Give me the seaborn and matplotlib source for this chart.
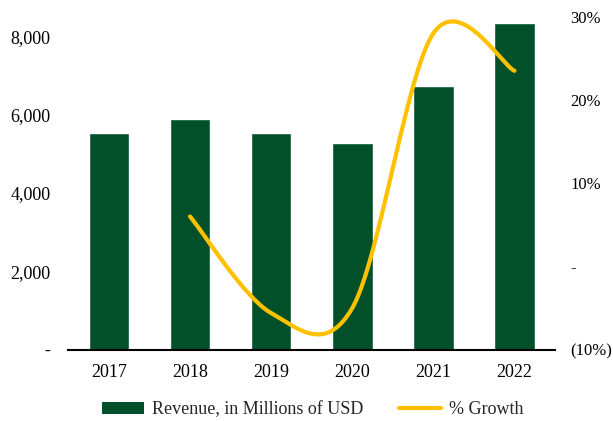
import numpy as np
import pandas as pd
import matplotlib
matplotlib.use("Agg")
import matplotlib.pyplot as plt
import seaborn as sns
from matplotlib.ticker import FuncFormatter, MultipleLocator
from matplotlib.patches import Patch
from matplotlib.lines import Line2D

# Data
years = ["2017", "2018", "2019", "2020", "2021", "2022"]
revenue = [5535, 5890, 5535, 5280, 6730, 8330]
growth_years = ["2018", "2019", "2020", "2021", "2022"]
growth = [6.0, -5.6, -5.0, 28.0, 23.5]

GREEN = "#02502A"
GOLD = "#FFC000"
FS = 13

sns.set_theme(style="white")
plt.rcParams["font.family"] = ["Liberation Serif", "DejaVu Serif"]
plt.rcParams["font.size"] = FS

fig = plt.figure(figsize=(6.13, 4.21), dpi=100)
W, H = 613, 421
ax = fig.add_axes([68.4 / W, 1 - 349.7 / H, (555 - 68.4) / W, (349.7 - 16.7) / H])

df = pd.DataFrame({"year": years, "revenue": revenue})
sns.barplot(data=df, x="year", y="revenue", color=GREEN, saturation=1,
            width=0.5, ax=ax, zorder=2)
ax.set_xlim(-0.5, 5.5)
ax.set_ylim(0, 8500)
ax.yaxis.set_major_locator(MultipleLocator(2000))
ax.yaxis.set_major_formatter(FuncFormatter(lambda v, p: "-" if v == 0 else f"{v:,.0f}"))
ax.set_xlabel("")
ax.set_ylabel("")
for s in ["top", "left", "right"]:
    ax.spines[s].set_visible(False)
ax.spines["bottom"].set_color("black")
ax.spines["bottom"].set_linewidth(1.5)
ax.spines["bottom"].set_zorder(3)
ax.tick_params(axis="x", length=0, pad=10, labelsize=FS, colors="black")
ax.tick_params(axis="y", length=0, pad=13, labelsize=FS, colors="black")

# Growth line, smoothed with a Catmull-Rom style Bezier between the yearly points
ax2 = ax.twinx()
gx = np.array([years.index(y) for y in growth_years], dtype=float)
gy = np.array(growth, dtype=float)
pts = np.column_stack([gx, gy])
curve = []
t = np.linspace(0, 1, 60)
for i in range(len(pts) - 1):
    p0 = pts[i]
    p3 = pts[i + 1]
    prev = pts[i - 1] if i > 0 else pts[i]
    nxt = pts[i + 2] if i + 2 < len(pts) else pts[i + 1]
    c1 = p0 + (p3 - prev) / 6
    c2 = p3 - (nxt - p0) / 6
    seg = ((1 - t) ** 3)[:, None] * p0 + (3 * (1 - t) ** 2 * t)[:, None] * c1 \
        + (3 * (1 - t) * t ** 2)[:, None] * c2 + (t ** 3)[:, None] * p3
    curve.append(seg if i == 0 else seg[1:])
curve = np.vstack(curve)
sns.lineplot(x=curve[:, 0], y=curve[:, 1], ax=ax2, color=GOLD, linewidth=3,
             sort=False, estimator=None)
ax2.set_ylim(-10, 30)
ax2.yaxis.set_major_locator(MultipleLocator(10))
def pct(v, p):
    if abs(v) < 1e-9:
        return "-"
    if v < 0:
        return f"({abs(v):.0f}%)"
    return f"{v:.0f}%"
ax2.yaxis.set_major_formatter(FuncFormatter(pct))
ax2.tick_params(axis="y", length=0, pad=11, labelsize=12, colors="black")
for s in ax2.spines.values():
    s.set_visible(False)
ax2.grid(False)
ax.grid(False)

handles = [Patch(facecolor=GREEN, edgecolor="none"),
           Line2D([0], [0], color=GOLD, linewidth=3)]
labels = ["Revenue, in Millions of USD", "% Growth"]
fig.legend(handles, labels, loc="center", bbox_to_anchor=(0.51, 1 - 410 / H),
           ncol=2, frameon=False, fontsize=FS, handlelength=2.3,
           handleheight=0.6, handletextpad=0.45, columnspacing=2.0)

fig.savefig("out.png", dpi=100)
